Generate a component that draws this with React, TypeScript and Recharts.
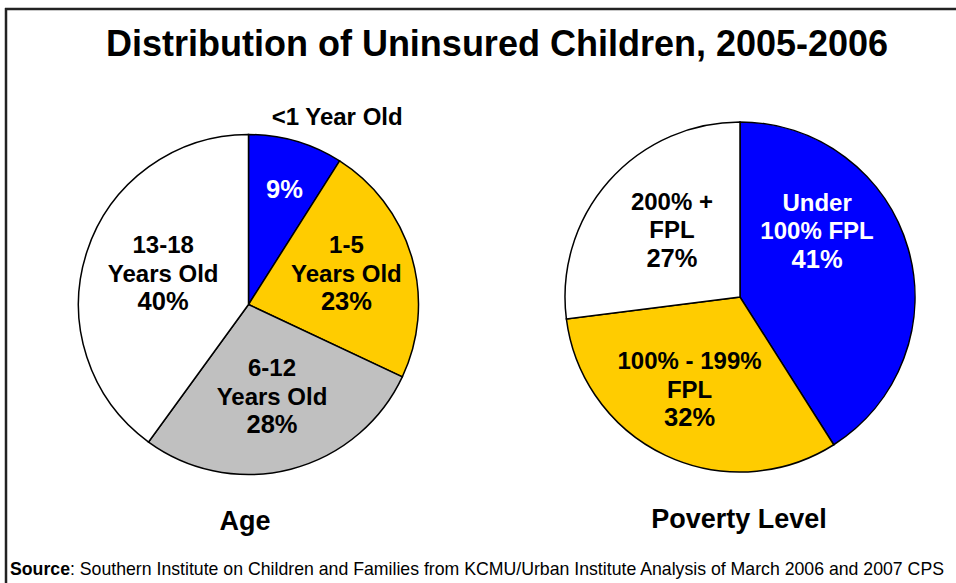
import { Cell, Pie, PieChart } from "recharts";

const AGE_GROUPS = ["<1 Year Old", "1-5\nYears Old", "6-12\nYears Old", "13-18\nYears Old"];
const AGE_SHARES = [9, 23, 28, 40];
const AGE_COLORS = ["#0000ff", "#ffcc00", "#c0c0c0", "#ffffff"];

const POVERTY_GROUPS = ["Under\n100% FPL", "100% - 199%\nFPL", "200% +\nFPL"];
const POVERTY_SHARES = [41, 32, 27];
const POVERTY_COLORS = ["#0000ff", "#ffcc00", "#ffffff"];

const TITLE = "Distribution of Uninsured Children, 2005-2006";
const SOURCE_TEXT =
  ": Southern Institute on Children and Families from KCMU/Urban Institute Analysis of March 2006 and 2007 CPS";

const FONT = "'Liberation Sans', Arial, Helvetica, sans-serif";
const RAD = Math.PI / 180;
const LINE = 28.5;

type LabelLayout = { r: number; da?: number; light?: boolean; outside?: { r: number; da: number } };

// radial fraction + angle nudge per slice, relative to the slice's mid angle
const AGE_LAYOUT: LabelLayout[] = [
  { r: 0.71, da: -1.1, light: true, outside: { r: 1.22, da: -9.1 } },
  { r: 0.605, da: 1.6 },
  { r: 0.556 },
  { r: 0.535, da: -2.2 }
];
const POVERTY_LAYOUT: LabelLayout[] = [
  { r: 0.58, da: 24.4, light: true },
  { r: 0.6, da: -3.5 },
  { r: 0.546, da: -3.2 }
];

const toRows = (names: string[], values: number[]) =>
  names.map((name, i) => ({ name, value: values[i] }));

function polar(cx: number, cy: number, r: number, angle: number) {
  return { x: cx + r * Math.cos(-angle * RAD), y: cy + r * Math.sin(-angle * RAD) };
}

function makeLabel(layout: LabelLayout[]) {
  return (props: any) => {
    const { cx, cy, midAngle, outerRadius, index, payload, value } = props;
    const cfg = layout[index];
    const name: string = payload?.name ?? props.name;
    const fill = cfg.light ? "#ffffff" : "#000000";
    const p = polar(cx, cy, outerRadius * cfg.r, midAngle + (cfg.da ?? 0));
    const lines = cfg.outside ? [] : name.split("\n");
    const all = [...lines, `${value}%`];
    const first = p.y - ((all.length - 1) * LINE) / 2 + 8.5;
    let outer = null;
    if (cfg.outside) {
      const o = polar(cx, cy, outerRadius * cfg.outside.r, midAngle + cfg.outside.da);
      outer = (
        <text x={o.x} y={o.y + 8.5} textAnchor="middle" fontFamily={FONT} fontWeight="bold" fontSize={24} fill="#000">
          {name}
        </text>
      );
    }
    return (
      <g>
        {outer}
        <text textAnchor="middle" fontFamily={FONT} fontWeight="bold" fill={fill}>
          {all.map((line, i) => (
            <tspan key={i} x={p.x} y={first + i * LINE} fontSize={i === all.length - 1 ? 25.5 : 24}>
              {line}
            </tspan>
          ))}
        </text>
      </g>
    );
  };
}

export default function App() {
  const ageRows = toRows(AGE_GROUPS, AGE_SHARES);
  const povertyRows = toRows(POVERTY_GROUPS, POVERTY_SHARES);

  return (
    <div style={{ position: "absolute", left: 0, top: 0, width: 956, height: 583, background: "#fff" }}>
      <svg width={956} height={583} style={{ position: "absolute", left: 0, top: 0 }}>
        <line x1={5} y1={9} x2={956} y2={9} stroke="#222" strokeWidth={2.5} />
        <line x1={6} y1={8} x2={6} y2={583} stroke="#222" strokeWidth={2.5} />
        <text x={497} y={56} textAnchor="middle" fontFamily={FONT} fontWeight="bold" fontSize={36} fill="#000">
          {TITLE}
        </text>
        <text x={245} y={530} textAnchor="middle" fontFamily={FONT} fontWeight="bold" fontSize={27} fill="#000">
          Age
        </text>
        <text x={739} y={528} textAnchor="middle" fontFamily={FONT} fontWeight="bold" fontSize={27} fill="#000">
          Poverty Level
        </text>
        <text x={10} y={575} fontFamily={FONT} fontSize={17.7} fill="#000">
          <tspan fontWeight="bold">Source</tspan>
          {SOURCE_TEXT}
        </text>
      </svg>
      <div style={{ position: "absolute", left: 0, top: 0 }}>
        <PieChart width={956} height={583} margin={{ top: 0, right: 0, bottom: 0, left: 0 }}>
          <Pie
            data={ageRows}
            dataKey="value"
            nameKey="name"
            cx={248.5}
            cy={304.5}
            outerRadius={170}
            startAngle={90}
            endAngle={-270}
            stroke="#000"
            strokeWidth={1.5}
            labelLine={false}
            label={makeLabel(AGE_LAYOUT)}
            isAnimationActive={false}
          >
            {ageRows.map((row, i) => (
              <Cell key={row.name} fill={AGE_COLORS[i]} />
            ))}
          </Pie>
          <Pie
            data={povertyRows}
            dataKey="value"
            nameKey="name"
            cx={740}
            cy={297}
            outerRadius={175}
            startAngle={90}
            endAngle={-270}
            stroke="#000"
            strokeWidth={1.5}
            labelLine={false}
            label={makeLabel(POVERTY_LAYOUT)}
            isAnimationActive={false}
          >
            {povertyRows.map((row, i) => (
              <Cell key={row.name} fill={POVERTY_COLORS[i]} />
            ))}
          </Pie>
        </PieChart>
      </div>
    </div>
  );
}
